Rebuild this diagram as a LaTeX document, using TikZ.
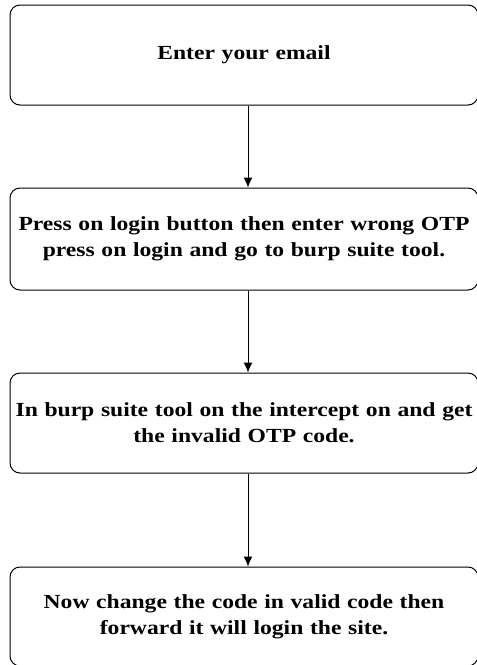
\documentclass[tikz,border=0pt]{standalone}
\usepackage{fontspec}
\setmainfont{Liberation Serif}[FakeStretch=1.18]
\usetikzlibrary{arrows.meta}
\tikzset{
    stepbox/.style={draw, rounded corners=10pt, line width=1pt,
        minimum width=468pt, text width=466pt, align=center, inner sep=0pt,
        font=\fontsize{20}{26}\selectfont\bfseries},
    flow/.style={-{Latex[length=10pt,width=9pt]}, line width=1pt}
}
\begin{document}
\begin{tikzpicture}[x=1pt,y=-1pt]
        \useasboundingbox (0,0) rectangle (477,665);

        \node[stepbox, minimum height=100pt] (email) at (244,55) {Enter your email};
        \node[stepbox, minimum height=102pt] (login) at (244,239)
            {Press on login button then enter wrong OTP\\ press on login and go to burp suite tool.};
        \node[stepbox, minimum height=100pt] (burp) at (244,423)
            {In burp suite tool on the intercept on and get\\ the invalid OTP code.};
        \node[stepbox, minimum height=99pt] (forward) at (244,616.5)
            {Now change the code in valid code then\\ forward it will login the site.};

        \draw[flow] ([xshift=4pt]email.south) -- ([xshift=4pt]login.north);
        \draw[flow] ([xshift=4pt]login.south) -- ([xshift=4pt]burp.north);
        \draw[flow] ([xshift=4pt]burp.south) -- ([xshift=4pt]forward.north);
    \end{tikzpicture}
\end{document}
